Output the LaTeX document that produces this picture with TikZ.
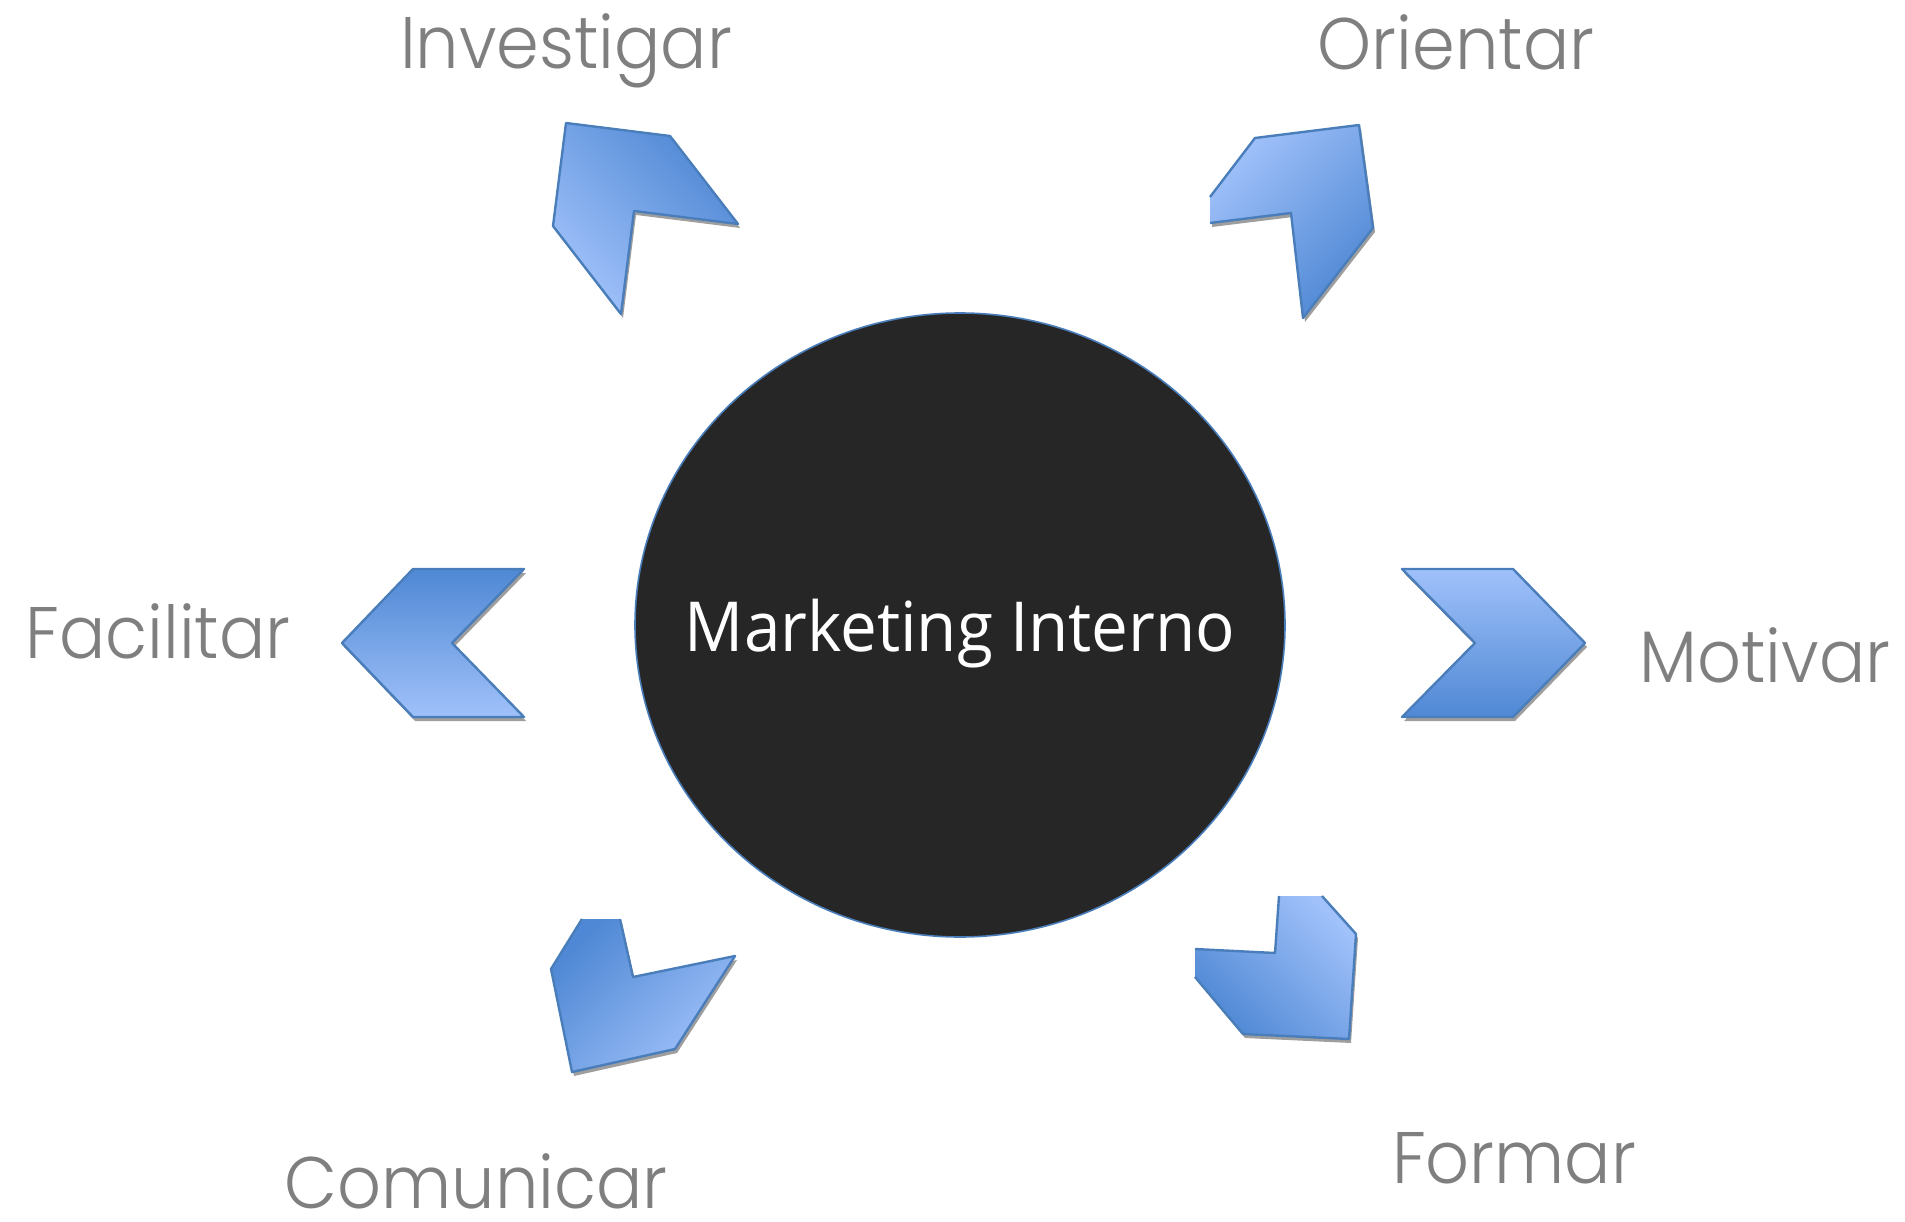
\documentclass[tikz,border=0pt]{standalone}
\usepackage{fontspec}
\setmainfont{Poppins}
\newfontfamily\verbfont{Poppins Light}
\newfontfamily\coresans{Open Sans}
\usetikzlibrary{shapes.geometric}

\definecolor{chevdark}{RGB}{79,136,212}
\definecolor{chevlight}{RGB}{160,193,250}
\definecolor{chevedge}{RGB}{74,126,187}
\definecolor{chevgray}{RGB}{158,158,158}
\definecolor{verbgray}{RGB}{127,127,127}
\definecolor{corefill}{RGB}{38,38,38}

\newcommand{\narrow}[1]{\scalebox{0.94}[1]{#1}}

\begin{document}
\begin{tikzpicture}[x=1pt, y=-1pt,
    chevline/.style={draw=chevedge, line width=2.4pt, line join=round},
    dropshade/.style={fill=chevgray, shift={(2,4)}},
    verb/.style={text=verbgray, anchor=base, inner sep=0pt, font=\verbfont\fontsize{73}{78}\selectfont},
    core/.style={ellipse, minimum width=650pt, minimum height=624pt, inner sep=0pt, fill=corefill, draw=chevedge, line width=1.6pt},
    coretext/.style={text=white, anchor=base, inner sep=0pt, font=\coresans\fontsize{69}{74}\selectfont}]
  \useasboundingbox (0,0) rectangle (1905,1222);

  % centre
  \node[core] (core) at (960,625) {};
  \node[coretext] (coretitle) at ([yshift=-26pt]core.center) {\scalebox{0.95}[1]{Marketing Interno}};

  % Investigar (up left)
  \fill[dropshade] (566,123) -- (670,136) -- (738,224) -- (634,211) -- (621,314) -- (553,226) -- cycle;
  \shade[top color=chevdark, bottom color=chevlight, shading angle=-45] (566,123) -- (670,136) -- (738,224) -- (634,211) -- (621,314) -- (553,226) -- cycle;
  \draw[chevline] (566,123) -- (670,136) -- (738,224) -- (634,211) -- (621,314) -- (553,226) -- cycle;

  % Orientar (up right), cut on the left
  \fill[dropshade] (1210,197) -- (1255,138) -- (1359,125) -- (1373,228) -- (1303,318) -- (1291,213) -- (1210,223) -- cycle;
  \shade[top color=chevlight, bottom color=chevdark, shading angle=45] (1210,197) -- (1255,138) -- (1359,125) -- (1373,228) -- (1303,318) -- (1291,213) -- (1210,223) -- cycle;
  \draw[chevline] (1210,197) -- (1255,138) -- (1359,125) -- (1373,228) -- (1303,318) -- (1291,213) -- (1210,223);

  % Facilitar (left)
  \fill[dropshade] (413,569) -- (524,569) -- (452,643) -- (524,717) -- (413,717) -- (342,643) -- cycle;
  \shade[top color=chevdark, bottom color=chevlight] (413,569) -- (524,569) -- (452,643) -- (524,717) -- (413,717) -- (342,643) -- cycle;
  \draw[chevline] (413,569) -- (524,569) -- (452,643) -- (524,717) -- (413,717) -- (342,643) -- cycle;

  % Motivar (right)
  \fill[dropshade] (1402,569) -- (1513,569) -- (1585,643) -- (1513,717) -- (1402,717) -- (1475,643) -- cycle;
  \shade[top color=chevlight, bottom color=chevdark] (1402,569) -- (1513,569) -- (1585,643) -- (1513,717) -- (1402,717) -- (1475,643) -- cycle;
  \draw[chevline] (1402,569) -- (1513,569) -- (1585,643) -- (1513,717) -- (1402,717) -- (1475,643) -- cycle;

  % Comunicar (down left), cut on top
  \fill[dropshade] (620,919) -- (633,977) -- (735,956) -- (675,1049) -- (572,1072) -- (551,969) -- (582,919) -- cycle;
  \shade[top color=chevdark, bottom color=chevlight, shading angle=45] (620,919) -- (633,977) -- (735,956) -- (675,1049) -- (572,1072) -- (551,969) -- (582,919) -- cycle;
  \draw[chevline] (620,919) -- (633,977) -- (735,956) -- (675,1049) -- (572,1072) -- (551,969) -- (582,919);

  % Formar (down right), cut on top and left
  \fill[dropshade] (1195,949) -- (1275,953) -- (1279,896) -- (1322,896) -- (1356,934) -- (1349,1039) -- (1243,1034) -- (1195,977) -- cycle;
  \shade[top color=chevlight, bottom color=chevdark, shading angle=-45] (1195,949) -- (1275,953) -- (1279,896) -- (1322,896) -- (1356,934) -- (1349,1039) -- (1243,1034) -- (1195,977) -- cycle;
  \draw[chevline] (1195,949) -- (1275,953) -- (1279,896);
  \draw[chevline] (1322,896) -- (1356,934) -- (1349,1039) -- (1243,1034) -- (1195,977);

  % verbs round the circle
  \node[verb] (investigar) at (566,69) {\narrow{Investigar}};
  \node[verb] (orientar) at (1456,70) {\narrow{Orientar}};
  \node[verb] (facilitar) at (158,658) {\narrow{Facilitar}};
  \node[verb] (motivar) at (1765,682) {\narrow{Motivar}};
  \node[verb] (comunicar) at (476,1208) {\narrow{Comunicar}};
  \node[verb] (formar) at (1514,1183) {\narrow{Formar}};
\end{tikzpicture}
\end{document}
